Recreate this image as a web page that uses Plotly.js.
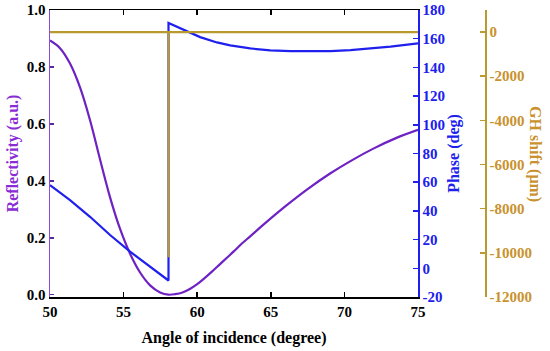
<!DOCTYPE html>
<html>
<head>
<meta charset="utf-8">
<script src="https://cdn.plot.ly/plotly-3.0.1.min.js"></script>
<style>html,body{margin:0;padding:0;background:#fff;}#chart{width:550px;height:351px;}</style>
</head>
<body>
<div id="chart"></div>
<script>
// Reflectivity (left axis)
var angleR = [50, 50.68, 51.36, 52.04, 52.72, 53.4, 54.08, 54.76, 55.44, 56.12, 56.8, 57.48, 58.05, 58.5, 59.0, 59.5, 60.0, 60.5, 61.0, 61.5, 62.0, 62.5, 63.0, 63.6, 64.5, 66.0, 67.5, 69.0, 70.5, 72.0, 73.5, 75];
var reflectivity = [0.893, 0.866, 0.812, 0.728, 0.613, 0.475, 0.342, 0.231, 0.144, 0.078, 0.033, 0.008, 0.0, 0.002, 0.008, 0.020, 0.037, 0.058, 0.081, 0.105, 0.129, 0.153, 0.178, 0.205, 0.246, 0.311, 0.371, 0.425, 0.472, 0.514, 0.550, 0.579];

// Phase (right axis)
var anglePh = [50, 51.36, 52.72, 54.08, 55.44, 56.8, 57.94, 58.05, 58.05, 59.07, 60.2, 61.34, 62.24, 63.6, 64.96, 66.33, 67.69, 69.05, 70.41, 71.77, 73.13, 75];
var phase = [58, 47.5, 35.9, 23.2, 11.6, 1.1, -7.7, -8.5, 171, 166.3, 161.1, 157.4, 155.4, 153.2, 151.9, 151.3, 151.1, 151.4, 152.1, 153.1, 154.5, 156.8];

// GH shift (second right axis)
var angleGH = [50, 58.05, 58.05, 58.05, 75];
var ghShift = [0, 0, -10200, 0, 0];

// Tick labels
var xTicks = [50, 55, 60, 65, 70, 75];
var rTicks = [0, 0.2, 0.4, 0.6, 0.8, 1.0];
var rTickText = ['0.0', '0.2', '0.4', '0.6', '0.8', '1.0'];
var phTicks = [-20, 0, 20, 40, 60, 80, 100, 120, 140, 160, 180];
var phTickText = ['-20', '0', '20', '40', '60', '80', '100', '120', '140', '160', '180'];
var ghTicks = [0, -2000, -4000, -6000, -8000, -10000, -12000];
var ghTickText = ['0', '-2000', '-4000', '-6000', '-8000', '-10000', '-12000'];

var FONT = 'Liberation Serif, Times New Roman, serif';
var PURPLE = '#6E22C4', PURPLE_T = '#8A2BD6', BLUE = '#2020EE', GOLD = '#B89A2E', GOLD_T = '#C9922E';

var traces = [
  {x: angleR, y: reflectivity, type: 'scatter', mode: 'lines', line: {color: PURPLE, width: 2.2, shape: 'spline', smoothing: 1}, xaxis: 'x', yaxis: 'y', hoverinfo: 'none'},
  {x: anglePh, y: phase, type: 'scatter', mode: 'lines', line: {color: BLUE, width: 2.2}, xaxis: 'x', yaxis: 'y2', hoverinfo: 'none'},
  {x: angleGH, y: ghShift, type: 'scatter', mode: 'lines', line: {color: GOLD, width: 2.2}, xaxis: 'x', yaxis: 'y3', hoverinfo: 'none'}
];

var layout = {
  width: 550, height: 351,
  margin: {l: 50, r: 65, t: 10, b: 54},
  paper_bgcolor: '#fff', plot_bgcolor: '#fff',
  showlegend: false,
  font: {family: FONT, size: 15, color: '#000', weight: 'bold'},
  xaxis: {
    domain: [0, 368/435], range: [50, 75], tickvals: xTicks, ticktext: xTicks.map(String),
    ticks: 'inside', ticklen: 5, tickwidth: 1.5, tickcolor: '#000',
    showline: true, linecolor: '#000', linewidth: 1.5, mirror: 'ticks',
    showgrid: false, zeroline: false,
    tickfont: {family: FONT, size: 15, color: '#000', weight: 'bold'},
    title: {text: 'Angle of incidence (degree)', font: {family: FONT, size: 16, color: '#000', weight: 'bold'}, standoff: 13}
  },
  yaxis: {
    range: [-0.008, 1.0], tickvals: rTicks, ticktext: rTickText,
    ticks: 'inside', ticklen: 4, tickwidth: 1.5, tickcolor: '#5a2a9a',
    showline: true, linecolor: '#8A4BE0', linewidth: 1.5,
    showgrid: false, zeroline: false,
    tickfont: {family: FONT, size: 15, color: '#000', weight: 'bold'},
    title: {text: 'Reflectivity (a.u.)', font: {family: FONT, size: 16, color: PURPLE_T, weight: 'bold'}, standoff: 4}
  },
  yaxis2: {
    overlaying: 'y', side: 'right', anchor: 'x',
    range: [-20, 180], tickvals: phTicks, ticktext: phTickText,
    ticks: 'inside', ticklen: 5, tickwidth: 1.5, tickcolor: BLUE,
    showline: true, linecolor: BLUE, linewidth: 1.5,
    showgrid: false, zeroline: false,
    tickfont: {family: FONT, size: 15, color: BLUE, weight: 'bold'},
    title: {text: 'Phase (deg)', font: {family: FONT, size: 16, color: BLUE, weight: 'bold'}, standoff: 4}
  },
  yaxis3: {
    overlaying: 'y', side: 'right', anchor: 'free', position: 1,
    range: [-12000, 1000], tickvals: ghTicks, ticktext: ghTickText,
    ticks: 'inside', ticklen: 5, tickwidth: 1.5, tickcolor: GOLD,
    showline: true, linecolor: GOLD, linewidth: 1.5,
    showgrid: false, zeroline: false,
    tickfont: {family: FONT, size: 15, color: GOLD_T, weight: 'bold'}
  },
  annotations: [
    {text: 'GH shift (\u03bcm)', xref: 'paper', yref: 'paper', x: (535.5 - 50) / 435, y: 0.5,
     xanchor: 'center', yanchor: 'middle', textangle: 90, showarrow: false,
     font: {family: FONT, size: 16, color: GOLD_T, weight: 'bold'}}
  ]
};

Plotly.newPlot('chart', traces, layout, {displayModeBar: false, staticPlot: true});
</script>
</body>
</html>
